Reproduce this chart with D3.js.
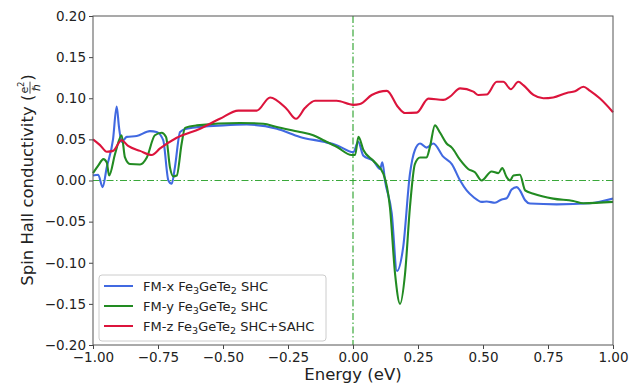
<!DOCTYPE html>
<html><head><meta charset="utf-8">
<script src="https://cdn.jsdelivr.net/npm/d3@7"></script>
<style>body{margin:0;background:#fff}svg{display:block}text{font-family:"DejaVu Sans",sans-serif;fill:#222}</style>
</head><body><svg id="c" width="634" height="387"></svg>
<script>
// FM-x Fe3GeTe2 SHC
const energyX = [-1.000,-0.980,-0.963,-0.947,-0.923,-0.909,-0.900,-0.890,-0.870,-0.832,-0.781,-0.755,-0.730,-0.710,-0.697,-0.685,-0.665,-0.640,-0.499,-0.409,-0.293,-0.204,-0.114,-0.063,0.001,0.020,0.040,0.078,0.104,0.113,0.123,0.149,0.169,0.193,0.219,0.238,0.258,0.283,0.309,0.347,0.380,0.412,0.437,0.463,0.495,0.514,0.546,0.572,0.591,0.610,0.630,0.642,0.662,0.681,0.783,0.912,1.000];
const valuesX = [0.006,0.007,-0.008,0.016,0.050,0.090,0.065,0.047,0.053,0.054,0.060,0.059,0.049,0.000,-0.004,0.016,0.059,0.063,0.067,0.068,0.063,0.053,0.047,0.043,0.0345,0.047,0.030,0.024,0.014,0.022,0.000,-0.040,-0.110,-0.081,0.008,0.037,0.045,0.040,0.045,0.029,0.020,0.000,-0.012,-0.020,-0.026,-0.0256,-0.027,-0.023,-0.0216,-0.011,-0.008,-0.012,-0.024,-0.028,-0.029,-0.0277,-0.022];
// FM-y Fe3GeTe2 SHC
const energyY = [-1.000,-0.980,-0.960,-0.947,-0.938,-0.915,-0.890,-0.877,-0.858,-0.819,-0.793,-0.762,-0.736,-0.719,-0.704,-0.691,-0.678,-0.659,-0.646,-0.601,-0.435,-0.345,-0.293,-0.204,-0.153,-0.114,-0.063,-0.005,0.008,0.021,0.040,0.078,0.117,0.142,0.162,0.181,0.200,0.219,0.238,0.258,0.283,0.296,0.315,0.335,0.360,0.380,0.412,0.443,0.469,0.495,0.533,0.559,0.574,0.591,0.604,0.617,0.642,0.662,0.694,0.770,0.847,0.886,1.000];
const valuesY = [0.009,0.018,0.026,0.022,0.006,0.0325,0.055,0.028,0.020,0.0195,0.028,0.055,0.058,0.053,0.016,0.005,0.006,0.045,0.064,0.067,0.070,0.069,0.065,0.059,0.055,0.049,0.041,0.031,0.031,0.053,0.037,0.024,0.008,-0.0325,-0.114,-0.150,-0.114,-0.0325,0.020,0.028,0.028,0.041,0.067,0.058,0.045,0.040,0.025,0.014,0.010,0.000,0.011,0.009,0.015,0.004,0.000,0.006,0.007,-0.012,-0.016,-0.022,-0.025,-0.0277,-0.026];
// FM-z Fe3GeTe2 SHC+SAHC
const energyZ = [-1.000,-0.973,-0.947,-0.923,-0.890,-0.865,-0.819,-0.774,-0.742,-0.678,-0.588,-0.512,-0.441,-0.370,-0.319,-0.255,-0.219,-0.185,-0.146,-0.063,0.001,0.027,0.072,0.130,0.174,0.200,0.245,0.290,0.347,0.373,0.412,0.463,0.482,0.514,0.553,0.578,0.607,0.636,0.655,0.694,0.732,0.770,0.822,0.854,0.886,0.912,0.950,1.000];
const valuesZ = [0.050,0.043,0.035,0.036,0.049,0.042,0.036,0.031,0.039,0.052,0.063,0.075,0.085,0.085,0.101,0.087,0.075,0.088,0.097,0.097,0.092,0.093,0.104,0.109,0.089,0.082,0.0825,0.0996,0.098,0.102,0.112,0.108,0.104,0.1045,0.120,0.120,0.111,0.120,0.116,0.104,0.100,0.101,0.1065,0.1085,0.114,0.109,0.0996,0.083];
const xTicks = [-1.00,-0.75,-0.50,-0.25,0.00,0.25,0.50,0.75,1.00];
const yTicks = [-0.20,-0.15,-0.10,-0.05,0.00,0.05,0.10,0.15,0.20];
const seriesNames = ["FM-x","FM-y","FM-z"];
const seriesColors = ["#4169e1","#228b22","#dc143c"];

const svg = d3.select("#c");
const L=93,R=613,T=16,B=345;
const x = d3.scaleLinear().domain([-1,1]).range([L,R]);
const y = d3.scaleLinear().domain([-0.2,0.2]).range([B,T]);
const fmt = v => d3.format(".2f")(v).replace("-","\u2212");

// zero reference lines
const refColor="#3aa83a";
svg.append("line").attr("x1",L).attr("x2",R).attr("y1",y(0)).attr("y2",y(0))
  .attr("stroke",refColor).attr("stroke-width",1.2).attr("stroke-dasharray","7,2.5,1.5,2.5");
svg.append("line").attr("x1",x(0)).attr("x2",x(0)).attr("y1",T).attr("y2",B)
  .attr("stroke",refColor).attr("stroke-width",1.2).attr("stroke-dasharray","7,2.5,1.5,2.5");

const line = d3.line().x(d=>x(d[0])).y(d=>y(d[1])).curve(d3.curveMonotoneX);
const sets = [[energyX,valuesX],[energyY,valuesY],[energyZ,valuesZ]];
sets.forEach((s,i)=>{
  const pts = s[0].map((e,j)=>[e,s[1][j]]);
  svg.append("path").datum(pts).attr("d",line).attr("fill","none")
    .attr("stroke",seriesColors[i]).attr("stroke-width",2.1).attr("stroke-linejoin","round");
});

// axes
const xa = svg.append("g").attr("transform",`translate(0,${B})`)
  .call(d3.axisBottom(x).tickValues(xTicks).tickFormat(fmt).tickSize(4).tickPadding(3));
const ya = svg.append("g").attr("transform",`translate(${L},0)`)
  .call(d3.axisLeft(y).tickValues(yTicks).tickFormat(fmt).tickSize(4).tickPadding(3));
[xa,ya].forEach(a=>{
  a.select(".domain").remove();
  a.selectAll("line").attr("stroke","#444");
  a.selectAll("text").style("font-size","13.5px").attr("fill","#222");
});
svg.append("rect").attr("x",L).attr("y",T).attr("width",R-L).attr("height",B-T)
  .attr("fill","none").attr("stroke","#555").attr("stroke-width",1);

// x label
svg.append("text").attr("x",(L+R)/2).attr("y",380).attr("text-anchor","middle")
  .style("font-size","16.5px").text("Energy (eV)");

// y label with fraction
const yl = svg.append("g");
const t1 = yl.append("text").attr("x",0).attr("y",0).style("font-size","16.5px").text("Spin Hall conductivity (");
const w1 = t1.node().getComputedTextLength();
const num = yl.append("text").attr("x",w1+7).attr("y",-5).attr("text-anchor","middle").style("font-size","11px");
num.append("tspan").text("e");
num.append("tspan").attr("dy",-4).style("font-size","8px").text("2");
yl.append("line").attr("x1",w1+1).attr("x2",w1+13).attr("y1",-3).attr("y2",-3).attr("stroke","#222").attr("stroke-width",0.8);
yl.append("text").attr("x",w1+7).attr("y",7).attr("text-anchor","middle").style("font-size","11px").text("\u210F");
const t3 = yl.append("text").attr("x",w1+14).attr("y",0).style("font-size","16.5px").text(")");
const tot = w1+14+t3.node().getComputedTextLength();
yl.attr("transform",`translate(33,${180+tot/2}) rotate(-90)`);

// legend
const lg = svg.append("g");
lg.append("rect").attr("x",99).attr("y",275).attr("width",227).attr("height",66).attr("rx",3)
  .attr("fill","#fff").attr("fill-opacity",0.8).attr("stroke","#ccc");
const suffix = [" SHC"," SHC"," SHC+SAHC"];
seriesNames.forEach((n,i)=>{
  const yy = 286+i*20;
  lg.append("line").attr("x1",104).attr("x2",133).attr("y1",yy).attr("y2",yy)
    .attr("stroke",seriesColors[i]).attr("stroke-width",2);
  const t = lg.append("text").attr("x",143).attr("y",yy+4.5).style("font-size","13px");
  t.append("tspan").text(n+" Fe");
  t.append("tspan").attr("dy",3).style("font-size","9.5px").text("3");
  t.append("tspan").attr("dy",-3).text("GeTe");
  t.append("tspan").attr("dy",3).style("font-size","9.5px").text("2");
  t.append("tspan").attr("dy",-3).text(suffix[i]);
});
</script></body></html>
